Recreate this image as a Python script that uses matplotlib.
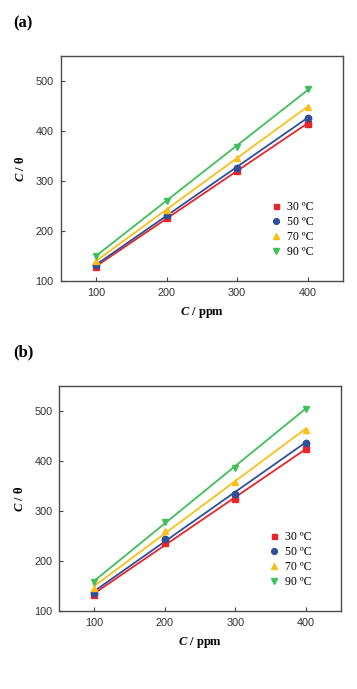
import numpy as np
import matplotlib
matplotlib.use("Agg")
import matplotlib.pyplot as plt

conc = [100, 200, 300, 400]
labels = ["30 ºC", "50 ºC", "70 ºC", "90 ºC"]
a_30 = [128, 227, 320, 415]
a_50 = [132, 232, 327, 427]
a_70 = [140, 243, 346, 449]
a_90 = [151, 261, 368, 484]
b_30 = [133, 237, 324, 424]
b_50 = [137, 245, 335, 437]
b_70 = [147, 260, 359, 463]
b_90 = [159, 279, 387, 505]
xticks = [100, 200, 300, 400]
yticks = [100, 200, 300, 400, 500]

colors = ["#e8262a", "#2e4f9a", "#fbbf1a", "#3fbf5a"]
markers = ["s", "o", "^", "v"]
msizes = [4.0, 4.6, 4.8, 4.8]

plt.rcParams["mathtext.fontset"] = "custom"
plt.rcParams["mathtext.bfit"] = "Liberation Serif:bold:italic"
plt.rcParams["mathtext.it"] = "Liberation Serif:italic"

fig = plt.figure(figsize=(3.57, 6.89), dpi=100)
W, H = 357, 689

def panel(rect, series, tag, tagpos):
    ax = fig.add_axes(rect)
    x = np.array(conc, dtype=float)
    for ys, c, m, ms, lab in zip(series, colors, markers, msizes, labels):
        ys = np.array(ys, dtype=float)
        k, b = np.polyfit(x, ys, 1)
        ax.plot(x, k * x + b, color=c, lw=1.3, zorder=2)
        ax.plot(x, ys, ls="none", marker=m, color=c, ms=ms, label=lab, zorder=3)
    ax.set_xlim(50, 450)
    ax.set_ylim(100, 550)
    ax.set_xticks(xticks)
    ax.set_yticks(yticks)
    ax.tick_params(direction="in", length=3, width=0.8, labelsize=7.8,
                   labelcolor="#333333", color="#444444", pad=5)
    for lab in ax.get_xticklabels() + ax.get_yticklabels():
        lab.set_family("Liberation Sans")
    for s in ax.spines.values():
        s.set_color("#4a4a4a")
        s.set_linewidth(1.0)
    ax.set_xlabel(r"$\boldsymbol{C}$ / ppm", fontsize=9, family="Liberation Serif",
                  fontweight="bold", labelpad=5)
    ax.set_ylabel(r"$\boldsymbol{C}$ / θ", fontsize=9, family="Liberation Serif",
                  fontweight="bold", labelpad=6)
    ax.legend(loc="lower left", bbox_to_anchor=(0.725, 0.08), frameon=False,
              prop={"family": "Liberation Serif", "size": 8.5},
              handletextpad=0.45, labelspacing=0.25, handlelength=1.0,
              borderaxespad=0.0, markerscale=0.9)
    fig.text(tagpos[0] / W, 1 - tagpos[1] / H, tag, fontsize=12, fontweight="bold",
             family="Liberation Serif", va="center", ha="left")
    return ax

panel([60.7 / W, 1 - 281 / H, (343 - 60.7) / W, (281 - 56) / H],
      [a_30, a_50, a_70, a_90], "(a)", (13, 23))
panel([59.3 / W, 1 - 611 / H, (340.7 - 59.3) / W, (611 - 386) / H],
      [b_30, b_50, b_70, b_90], "(b)", (13, 352))

fig.savefig("out.png", dpi=100)
